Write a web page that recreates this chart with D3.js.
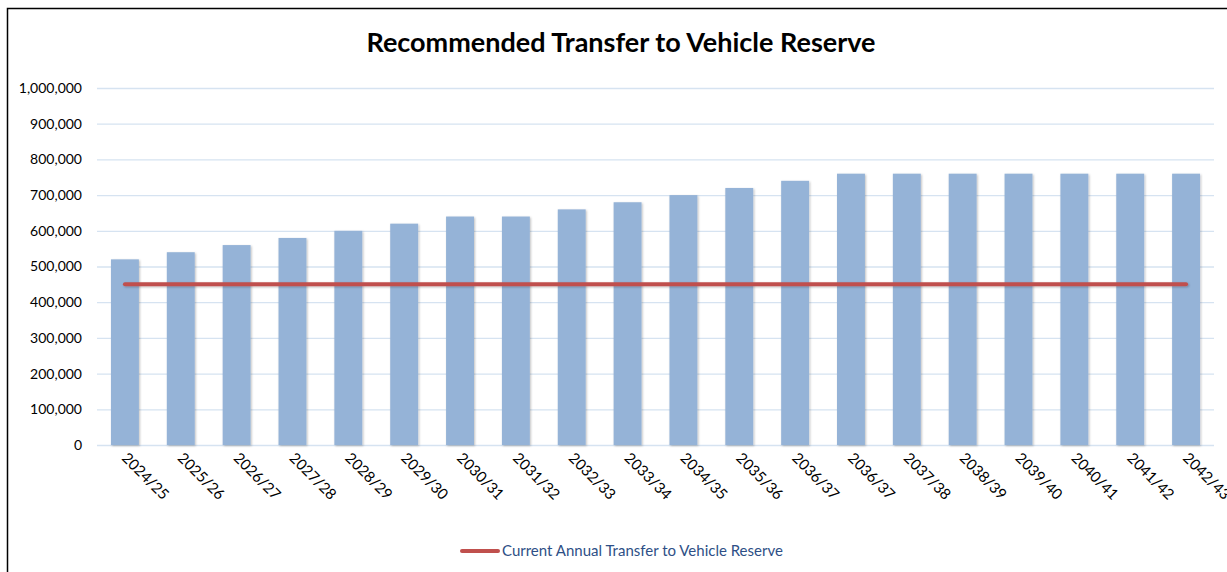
<!DOCTYPE html>
<html>
<head>
<meta charset="utf-8">
<script src="https://cdn.jsdelivr.net/npm/d3@7"></script>
<style>
  html, body { margin: 0; padding: 0; background: #fff; }
  svg { display: block; font-family: Lato, "Open Sans", sans-serif; }
</style>
</head>
<body>
<svg id="chart" width="1227" height="572"></svg>
<script>
const categories = ['2024/25', '2025/26', '2026/27', '2027/28', '2028/29', '2029/30', '2030/31',
    '2031/32', '2032/33', '2033/34', '2034/35', '2035/36', '2036/37', '2036/37 ', '2037/38',
    '2038/39', '2039/40', '2040/41', '2041/42', '2042/43'];
const recommended = [520000, 540000, 560000, 580000, 600000, 620000, 640000, 640000, 660000,
    680000, 700000, 720000, 740000, 760000, 760000, 760000, 760000, 760000, 760000, 760000];
const currentTransfer = categories.map(() => 450000);
const yTicks = [0, 100000, 200000, 300000, 400000, 500000, 600000, 700000, 800000, 900000, 1000000];

const title = 'Recommended Transfer to Vehicle Reserve';
const legendLabel = 'Current Annual Transfer to Vehicle Reserve';

const svg = d3.select('#chart');
const plot = { left: 97, right: 1214, top: 88, bottom: 445 };

// Outer frame (only top and left edges are visible in the crop)
svg.append('rect')
    .attr('x', 7.5).attr('y', 8.5)
    .attr('width', 1300).attr('height', 700)
    .attr('fill', 'none')
    .attr('stroke', '#000')
    .attr('stroke-width', 1.5);

// userSpaceOnUse so the flat line path doesn't get a zero-height filter region
const defs = svg.append('defs');
const shadow = defs.append('filter').attr('id', 'shadow')
    .attr('filterUnits', 'userSpaceOnUse')
    .attr('x', 0).attr('y', 0).attr('width', 1227).attr('height', 572);
shadow.append('feDropShadow')
    .attr('dx', 1).attr('dy', 1).attr('stdDeviation', 1)
    .attr('flood-color', '#000').attr('flood-opacity', 0.25);

const x = d3.scaleBand()
    .domain(categories)
    .range([plot.left, plot.right])
    .paddingInner(0.5)
    .paddingOuter(0.25);

const y = d3.scaleLinear()
    .domain([0, 1000000])
    .range([plot.bottom, plot.top]);

// Gridlines
svg.append('g')
    .selectAll('line')
    .data(yTicks)
    .enter().append('line')
    .attr('x1', plot.left)
    .attr('x2', plot.right)
    .attr('y1', d => y(d) + 0.5)
    .attr('y2', d => y(d) + 0.5)
    .attr('stroke', '#D6E3F1')
    .attr('stroke-width', 1.3);

// Y axis labels
const yAxis = d3.axisLeft(y)
    .tickValues(yTicks)
    .tickSize(0)
    .tickPadding(15)
    .tickFormat(d3.format(','));

svg.append('g')
    .attr('transform', `translate(${plot.left},0)`)
    .call(yAxis)
    .call(g => g.select('.domain').remove())
    .call(g => g.selectAll('text')
        .attr('fill', '#000')
        .style('font-size', '14px')
        .style('font-family', 'Lato, sans-serif'));

// Bars
svg.append('g')
    .selectAll('rect')
    .data(recommended)
    .enter().append('rect')
    .attr('x', (d, i) => x(categories[i]))
    .attr('y', d => y(d))
    .attr('width', x.bandwidth())
    .attr('height', d => y(0) - y(d))
    .attr('fill', '#95B3D7')
    .attr('filter', 'url(#shadow)');

// X axis labels
const xAxis = d3.axisBottom(x)
    .tickSize(0)
    .tickPadding(0);

svg.append('g')
    .attr('transform', `translate(0,${plot.bottom})`)
    .call(xAxis)
    .call(g => g.select('.domain').remove())
    .call(g => g.selectAll('text')
        .attr('fill', '#000')
        .attr('text-anchor', 'start')
        .attr('dy', null)
        .attr('y', 0)
        .attr('transform', 'translate(-4,14) rotate(45)')
        .style('font-size', '15px')
        .style('font-family', 'Lato, sans-serif'));

// Current transfer line
const line = d3.line()
    .x((d, i) => x(categories[i]) + x.bandwidth() / 2)
    .y(d => y(d));

svg.append('path')
    .datum(currentTransfer)
    .attr('d', line)
    .attr('fill', 'none')
    .attr('stroke', '#C0504D')
    .attr('stroke-width', 4)
    .attr('stroke-linecap', 'round')
    .attr('filter', 'url(#shadow)');

// Title
svg.append('text')
    .attr('x', 621)
    .attr('y', 52)
    .attr('text-anchor', 'middle')
    .style('font-size', '27px')
    .style('font-weight', 'bold')
    .style('font-family', 'Lato, sans-serif')
    .text(title);

// Legend
const legend = svg.append('g').attr('transform', 'translate(462,551)');
legend.append('line')
    .attr('x1', 0).attr('x2', 36)
    .attr('y1', 0).attr('y2', 0)
    .attr('stroke', '#C0504D')
    .attr('stroke-width', 4)
    .attr('stroke-linecap', 'round');
legend.append('text')
    .attr('x', 40)
    .attr('y', 5)
    .attr('fill', '#2E4F86')
    .style('font-size', '15px')
    .style('font-family', 'Lato, sans-serif')
    .text(legendLabel);
</script>
</body>
</html>
